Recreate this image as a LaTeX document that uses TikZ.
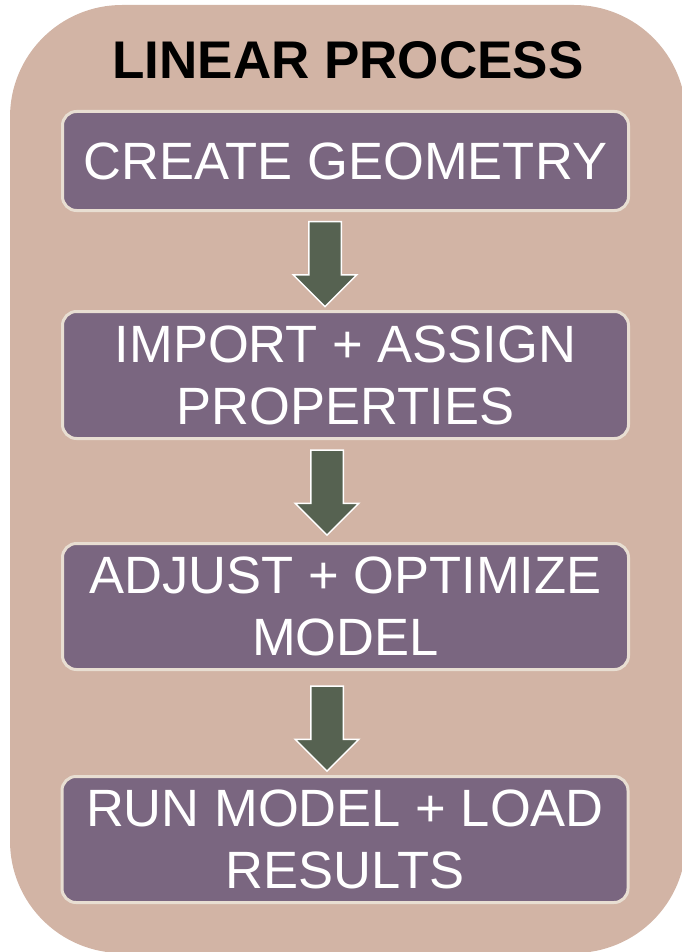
\documentclass[tikz,border=0pt]{standalone}
\usepackage{fontspec}
\setmainfont{Liberation Sans}
\usetikzlibrary{shapes.arrows}
\definecolor{outerfill}{HTML}{D2B4A5}
\definecolor{boxfill}{HTML}{7A6680}
\definecolor{boxline}{HTML}{E8DED2}
\definecolor{arrfill}{HTML}{566251}
\tikzstyle{stage}=[fill=boxfill, draw=boxline, line width=3pt, shape=rectangle, rounded corners=14pt, minimum width=566pt, text=white, align=center, inner sep=0pt, font=\fontsize{52.5}{62}\selectfont]
\tikzstyle{dn}=[fill=arrfill, draw=white, line width=1.5pt, shape=single arrow, single arrow head extend=15.5pt, inner xsep=0pt, inner ysep=15.5pt, minimum height=85pt, rotate=-90]

\begin{document}
\begin{tikzpicture}[x=1pt, y=-1pt]
		\useasboundingbox (0,0) rectangle (681,952);
		\fill[outerfill, rounded corners=112pt] (10,5) rectangle (686,953);

		\node[font=\fontsize{53}{60}\selectfont\bfseries] (0) at (348,60) {LINEAR PROCESS};

		\node [style=stage, minimum height=99pt] (1) at (345.5,161) {CREATE GEOMETRY};
		\node [style=stage, minimum height=127pt] (2) at (345.5,375) {IMPORT + ASSIGN\\PROPERTIES};
		\node [style=stage, minimum height=126pt] (3) at (345.5,606.5) {ADJUST + OPTIMIZE\\MODEL};
		\node [style=stage, minimum height=126pt] (4) at (345,839.5) {RUN MODEL + LOAD\\RESULTS};

		\node [style=dn] (12) at (325,256) {};
		\node [style=dn] (23) at (327,484.5) {};
		\node [style=dn] (34) at (327,720.5) {};
	\end{tikzpicture}
\end{document}
